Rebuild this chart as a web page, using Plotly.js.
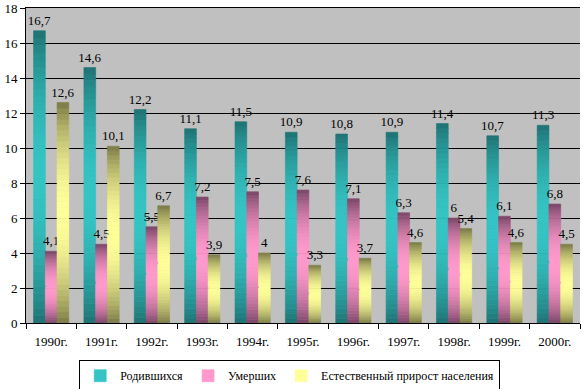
<!DOCTYPE html>
<html><head><meta charset="utf-8">
<script src="https://cdn.plot.ly/plotly-3.0.1.min.js"></script>
<style>html,body{margin:0;padding:0;background:#fff}</style>
</head><body><div id="chart" style="width:584px;height:389px"></div>
<script>
const years = ['1990г.','1991г.','1992г.','1993г.','1994г.','1995г.','1996г.','1997г.','1998г.','1999г.','2000г.'];
const births = [16.7,14.6,12.2,11.1,11.5,10.9,10.8,10.9,11.4,10.7,11.3];
const deaths = [4.1,4.5,5.5,7.2,7.5,7.6,7.1,6.3,6.0,6.1,6.8];
const growth = [12.6,10.1,6.7,3.9,4.0,3.3,3.7,4.6,5.4,4.6,4.5];
const seriesNames = ['Родившихся','Умерших','Естественный прирост населения'];
const yTicks = [0,2,4,6,8,10,12,14,16,18];

const palettes = [
  {dark:[30,112,112], light:[52,196,196]},
  {dark:[118,68,100], light:[255,153,204]},
  {dark:[118,118,68], light:[255,255,153]}
];
const FONT = "'Liberation Serif', 'Times New Roman', serif";
const N = 40;
function mix(p,f){
  const c = p.dark.map((d,i)=>Math.round(d+(p.light[i]-d)*f));
  return 'rgb('+c.join(',')+')';
}
function fmt(v){ return String(Math.round(v*10)/10).replace('.',','); }

const allSeries = [births, deaths, growth];
const traces = [];
allSeries.forEach((vals, s) => {
  for (let k=0;k<N;k++){
    const t=(k+0.5)/N;
    const f=Math.pow(Math.sin(Math.PI*t),0.8);
    const last = k===N-1;
    const mid = k===Math.floor(N/2);
    const col = mix(palettes[s], f);
    traces.push({
      type:'bar', x:years,
      y: vals.map(v=>v/N),
      base: vals.map(v=>v*k/N),
      offsetgroup:'g'+s,
      legendgroup:'g'+s,
      name: seriesNames[s],
      showlegend: mid,
      marker:{color: col, line:{width:0.6, color: col}},
      text: last ? vals.map(fmt) : undefined,
      textposition: last ? 'outside' : 'none',
      textfont:{family:FONT,size:13,color:'#000'},
      constraintext:'none',
      cliponaxis:false,
      hoverinfo:'skip'
    });
  }
});
traces.sort((a,b)=> (b.showlegend?1:0)-(a.showlegend?1:0));

const layout = {
  width:584, height:389,
  margin:{l:26,r:4,t:8,b:66,autoexpand:false},
  paper_bgcolor:'#fff', plot_bgcolor:'#c0c0c0',
  font:{family:FONT,size:13,color:'#000'},
  barmode:'group', bargap:0.3, bargroupgap:0,
  showlegend:true,
  legend:{orientation:'h', x:0.476, xanchor:'center', y:-0.118, yanchor:'top',
    bordercolor:'#000', borderwidth:1, bgcolor:'#fff', itemwidth:30,
    font:{family:FONT,size:12,color:'#000'}, traceorder:'normal'},
  xaxis:{type:'category', tickson:'boundaries', ticks:'outside', ticklen:5, tickcolor:'#000',
    showline:true, mirror:true, linecolor:'#000', linewidth:1, showgrid:false, ticklabelstandoff:6,
    tickfont:{family:FONT,size:13,color:'#000'}},
  yaxis:{range:[0,18], tickvals:yTicks, ticktext:yTicks.map(String), ticks:'outside', ticklen:5, tickcolor:'#000',
    showline:true, linecolor:'#000', linewidth:1, showgrid:true, gridcolor:'#000', gridwidth:1,
    ticklabeloverflow:'allow',
    zeroline:false, tickfont:{family:FONT,size:13,color:'#000'}}
};
Plotly.newPlot('chart', traces, layout, {staticPlot:true});
</script></body></html>
